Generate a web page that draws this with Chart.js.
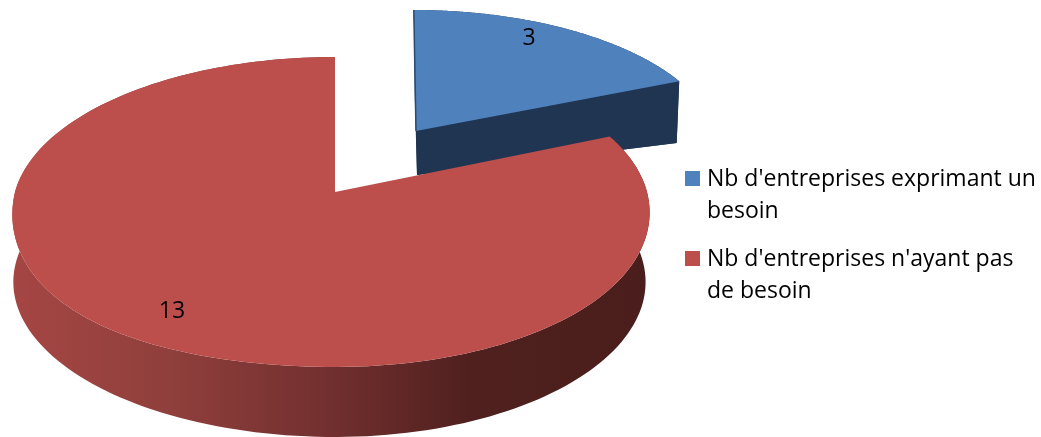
<!DOCTYPE html>
<html>
<head>
<meta charset="utf-8">
<style>
  html, body { margin: 0; padding: 0; background: #fff; overflow: hidden; }
  canvas { display: block; }
</style>
<script src="https://cdn.jsdelivr.net/npm/chart.js@4"></script>
</head>
<body>
<canvas id="pieChart" width="1041" height="437"></canvas>
<script>
const categories = [
    ["Nb d'entreprises exprimant un", "besoin"],
    ["Nb d'entreprises n'ayant pas", "de besoin"]
];
const values = [3, 13];
const sliceColors = ['#4f81bd', '#bc4f4c'];

// perspective des deux parts : face du dessus / face du dessous
const P = 0.129;
const views = [
    {
        top: { x: 416, y: 131, left: 300, right: 300, a: 136.6, lean: 2.5, bulgeL: 0, bulgeR: 0 },
        bottom: { x: 417, y: 175, left: 296, right: 296, a: 87.6, lean: 2.5, bulgeL: 0, bulgeR: 0 }
    },
    {
        top: { x: 335, y: 192, left: 320, right: 312, a: 152.4, lean: 0, bulgeL: 20, bulgeR: 4 },
        bottom: { x: 335, y: 262, left: 319, right: 308, a: 152.4, lean: 0, bulgeL: 0, bulgeR: 0 }
    }
];
const labelAt = [[529, 38], [172, 311]];
const legendBox = { x: 685, size: 15, textX: 707, lineHeight: 32, firstBaseline: [186, 266] };
const FONT = '"Open Sans", "Noto Sans", sans-serif';

function project(v, angle) {
    const X = Math.cos(angle), Y = Math.sin(angle);
    const w = 1 - P * Y;
    const rx = X < 0 ? v.left : v.right;
    const bulge = Y > 0 ? (X < 0 ? v.bulgeL : v.bulgeR) * X * X * Y : 0;
    return [v.x + (rx * X + v.lean * Y) / w, v.y + v.a * Y / w + bulge];
}

function arcPoints(v, start, end) {
    const pts = [];
    for (let i = 0; i <= 180; i++) pts.push(project(v, start + (end - start) * i / 180));
    return pts;
}

function fillPoly(ctx, pts, fill) {
    ctx.beginPath();
    pts.forEach((p, i) => i ? ctx.lineTo(p[0], p[1]) : ctx.moveTo(p[0], p[1]));
    ctx.closePath();
    ctx.fillStyle = fill;
    ctx.fill();
}

const pie3d = {
    id: 'pie3d',
    // on remplace le dessin à plat par la version en relief
    beforeDatasetDraw(chart, args) {
        const ctx = chart.ctx;
        const arcs = args.meta.data;
        ctx.save();

        // part bleue, derrière
        const b = views[0];
        const bs = arcs[0].startAngle, be = arcs[0].endAngle;
        fillPoly(ctx, [[b.bottom.x, b.bottom.y]].concat(arcPoints(b.bottom, bs, be)), '#1f3552');
        fillPoly(ctx, [[b.top.x, b.top.y], project(b.top, be), project(b.bottom, be), [b.bottom.x, b.bottom.y]], '#1f3552');
        fillPoly(ctx, arcPoints(b.top, bs, be).concat(arcPoints(b.bottom, bs, be).reverse()), '#1f3552');
        fillPoly(ctx, [[b.top.x, b.top.y]].concat(arcPoints(b.top, bs, be)), sliceColors[0]);
        ctx.strokeStyle = '#2b4a73';
        ctx.lineWidth = 1.5;
        ctx.beginPath();
        ctx.moveTo(b.top.x, b.top.y);
        ctx.lineTo(...project(b.top, bs));
        ctx.stroke();

        // part rouge, devant
        const r = views[1];
        const rs = arcs[1].startAngle, re = arcs[1].endAngle;
        const wall = ctx.createLinearGradient(12, 0, 650, 0);
        wall.addColorStop(0, '#a54643');
        wall.addColorStop(0.25, '#8f3f3c');
        wall.addColorStop(0.5, '#722f2f');
        wall.addColorStop(0.72, '#4f201e');
        wall.addColorStop(1, '#4a1e1c');
        fillPoly(ctx, arcPoints(r.top, rs, re).concat(arcPoints(r.bottom, rs, re).reverse()), wall);
        fillPoly(ctx, [[r.top.x, r.top.y]].concat(arcPoints(r.top, rs, re)), sliceColors[1]);

        ctx.restore();
        return false;
    },
    afterDraw(chart) {
        const ctx = chart.ctx;
        ctx.save();
        ctx.fillStyle = '#000';
        ctx.textAlign = 'center';
        ctx.textBaseline = 'middle';
        ctx.font = '23px ' + FONT;
        values.forEach((v, i) => ctx.fillText(String(v), labelAt[i][0], labelAt[i][1]));

        ctx.textAlign = 'left';
        ctx.textBaseline = 'alphabetic';
        chart.data.labels.forEach((lines, i) => {
            const base = legendBox.firstBaseline[i];
            ctx.fillStyle = sliceColors[i];
            ctx.fillRect(legendBox.x, base - legendBox.size, legendBox.size, legendBox.size);
            ctx.fillStyle = '#000';
            lines.forEach((t, k) => ctx.fillText(t, legendBox.textX, base + k * legendBox.lineHeight));
        });
        ctx.restore();
    }
};

const pieCanvas = document.getElementById('pieChart');
new Chart(pieCanvas.getContext('2d'), {
    type: 'pie',
    data: {
        labels: categories,
        datasets: [{ data: values, backgroundColor: sliceColors, borderWidth: 0 }]
    },
    options: {
        responsive: false,
        animation: false,
        plugins: { legend: { display: false }, tooltip: { enabled: false } }
    },
    plugins: [pie3d]
});
</script>
</body>
</html>
